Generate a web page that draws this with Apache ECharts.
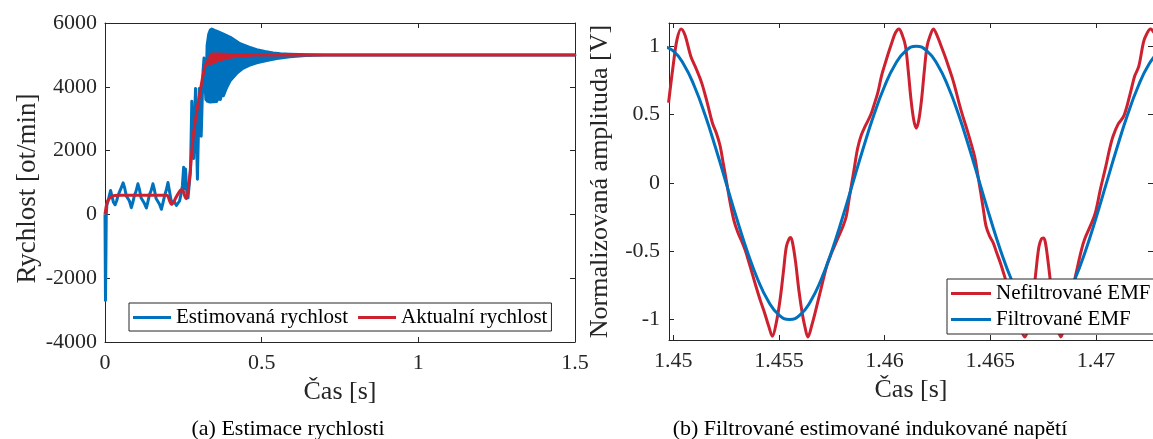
<!DOCTYPE html>
<html>
<head>
<meta charset="utf-8">
<script src="https://cdn.jsdelivr.net/npm/echarts@6/dist/echarts.min.js"></script>
<style>
  html, body { margin: 0; padding: 0; background: #fff; }
  #chart { width: 1153px; height: 439px; }
</style>
</head>
<body>
<div id="chart"></div>
<script>
// ---------- (a) Estimace rychlosti ----------
// estimated speed [rpm] before the fast oscillation
const estT = [0.000, 0.0015, 0.003, 0.004, 0.006, 0.010, 0.014, 0.018, 0.022, 0.027, 0.032, 0.037, 0.042, 0.047,
  0.052, 0.058, 0.063, 0.068, 0.073, 0.078, 0.084, 0.089, 0.094, 0.099, 0.105, 0.110, 0.115, 0.120, 0.126, 0.132,
  0.137, 0.142, 0.147, 0.153, 0.158, 0.163, 0.168, 0.174, 0.180, 0.185, 0.190, 0.195, 0.201, 0.206, 0.211, 0.216,
  0.222, 0.228, 0.233, 0.238, 0.243, 0.247, 0.251, 0.254, 0.257, 0.261, 0.265, 0.269, 0.273, 0.277, 0.280, 0.283,
  0.286, 0.289, 0.292, 0.295, 0.298, 0.301, 0.304, 0.307, 0.310, 0.313, 0.316, 0.319, 0.322, 0.325, 0.327];
const estV = [0, -2700, -1200, 0, 300, 420, 600, 750, 580, 380, 300, 420, 600, 720,
  840, 990, 820, 580, 620, 420, 210, 380, 600, 720, 960, 780, 520, 560, 340, 200,
  400, 620, 740, 960, 760, 500, 540, 320, 160, 360, 580, 740, 1000, 720, 430, 470,
  380, 280, 250, 420, 650, 900, 1480, 800, 1420, 700, 520, 460, 1400, 3550, 2300, 1750,
  3100, 3950, 2400, 1100, 2500, 3950, 3300, 2450, 3500, 4500, 4900, 4100, 3600, 4800, 5300];
// envelope of the fast oscillation of the estimate, then settled value
const estBandT = [0.326, 0.331, 0.336, 0.341, 0.350, 0.360, 0.378, 0.400, 0.431, 0.460, 0.484, 0.510, 0.537,
  0.560, 0.590, 0.620, 0.650, 0.700, 1.500];
const estBandUpper = [5300, 5650, 5780, 5810, 5770, 5730, 5650, 5550, 5350, 5240, 5165, 5105, 5063,
  5040, 5022, 5010, 5003, 5000, 5000];
const estBandLowerT = [0.326, 0.335, 0.345, 0.356, 0.362, 0.368, 0.372, 0.378, 0.385, 0.392, 0.400, 0.420,
  0.440, 0.460, 0.484, 0.516, 0.548, 0.590, 0.640, 0.700, 1.500];
const estBandLower = [3550, 3520, 3530, 3540, 3650, 3600, 3750, 3720, 3900, 4050, 4200, 4420,
  4580, 4670, 4750, 4825, 4885, 4940, 4978, 5000, 5000];
// actual speed [rpm]
const actT = [0.000, 0.003, 0.006, 0.010, 0.016, 0.024, 0.032, 0.045, 0.198, 0.203, 0.208, 0.213, 0.219, 0.226,
  0.234, 0.241, 0.246, 0.251, 0.255, 0.259, 0.262, 0.266, 0.271, 0.276, 0.282, 0.290, 0.298, 0.304, 0.309,
  0.314, 0.319, 0.325, 0.330, 0.340, 0.350, 0.365, 0.380, 0.400, 0.420, 0.450, 0.470, 1.500];
const actV = [0, 200, 350, 450, 520, 570, 592, 600, 600, 520, 380, 310, 380, 520,
  660, 760, 770, 700, 560, 490, 560, 800, 1240, 1850, 2490, 3050, 3530, 3870, 4160,
  4420, 4625, 4760, 4833, 4870, 4900, 4930, 4955, 4975, 4988, 4997, 5000, 5000];
// ripple envelope of the actual speed while settling
const actBandT = [0.326, 0.335, 0.345, 0.360, 0.380, 0.400, 0.430, 0.470];
const actBandUpper = [4850, 4980, 5030, 5030, 5020, 5012, 5005, 5000];
const actBandLower = [4700, 4720, 4760, 4820, 4880, 4925, 4965, 5000];

const speedXTicks = [0, 0.5, 1, 1.5];
const speedYTicks = [-4000, -2000, 0, 2000, 4000, 6000];

// ---------- (b) Filtrované estimované indukované napětí ----------
const emfRawT = [1.44978, 1.44999, 1.45018, 1.45037, 1.45056, 1.45083, 1.45110, 1.45135, 1.45162, 1.45185,
  1.45205, 1.45222, 1.45237, 1.45252, 1.45270, 1.45288, 1.45305, 1.45322, 1.45340, 1.45356, 1.45375,
  1.45392, 1.45412, 1.45432, 1.45452, 1.45469, 1.45488, 1.45506, 1.45522, 1.45535, 1.45548, 1.45556,
  1.45566, 1.45579, 1.45594, 1.45610, 1.45624, 1.45637, 1.45656, 1.45675, 1.45700, 1.45726, 1.45750,
  1.45776, 1.45800, 1.45818, 1.45832, 1.45845, 1.45858, 1.45872, 1.45890, 1.45910, 1.45935, 1.45952,
  1.45968, 1.45985, 1.46000, 1.46018, 1.46035, 1.46052, 1.46068, 1.46084, 1.46099, 1.46112, 1.46125,
  1.46138, 1.46150, 1.46162, 1.46175, 1.46188, 1.46201, 1.46216, 1.46231, 1.46248, 1.46268, 1.46285,
  1.46302, 1.46320, 1.46336, 1.46353, 1.46370, 1.46388, 1.46404, 1.46418, 1.46429, 1.46442, 1.46455,
  1.46468, 1.46480, 1.46497, 1.46514, 1.46530, 1.46548, 1.46565, 1.46582, 1.46603, 1.46624, 1.46645,
  1.46663, 1.46682, 1.46700, 1.46716, 1.46730, 1.46742, 1.46751, 1.46760, 1.46773, 1.46790, 1.46806,
  1.46820, 1.46833, 1.46855, 1.46878, 1.46905, 1.46930, 1.46946, 1.46972, 1.46997, 1.47022, 1.47047,
  1.47065, 1.47081, 1.47105, 1.47132, 1.47160, 1.47183, 1.47203, 1.47225, 1.47240, 1.47258, 1.47275];
const emfRawV = [0.586, 0.85, 1.05, 1.127, 1.08, 0.927, 0.83, 0.73, 0.58, 0.44,
  0.36, 0.27, 0.14, 0.01, -0.15, -0.28, -0.36, -0.42, -0.49, -0.57, -0.67,
  -0.76, -0.86, -0.95, -1.05, -1.123, -1.02, -0.85, -0.64, -0.47, -0.41, -0.40,
  -0.45, -0.58, -0.78, -0.95, -1.06, -1.128, -1.04, -0.928, -0.77, -0.61, -0.51,
  -0.415, -0.33, -0.25, -0.12, 0.0, 0.12, 0.25, 0.35, 0.42, 0.50, 0.58,
  0.66, 0.78, 0.86, 0.95, 1.03, 1.10, 1.127, 1.08, 1.0, 0.82, 0.61,
  0.46, 0.40, 0.46, 0.61, 0.82, 1.0, 1.08, 1.127, 1.08, 1.0, 0.93,
  0.854, 0.77, 0.683, 0.58, 0.488, 0.40, 0.317, 0.24, 0.171, 0.05, -0.073,
  -0.2, -0.317, -0.39, -0.439, -0.51, -0.586, -0.67, -0.757, -0.87, -0.977, -1.07,
  -1.128, -1.05, -0.88, -0.65, -0.47, -0.41, -0.403, -0.43, -0.57, -0.79, -0.96,
  -1.07, -1.128, -1.0, -0.854, -0.67, -0.50, -0.415, -0.32, -0.22, -0.04, 0.122,
  0.25, 0.341, 0.43, 0.49, 0.64, 0.78, 0.854, 1.03, 1.09, 1.127, 1.10];
const emfFiltT = [1.4495, 1.4500, 1.4505, 1.4510, 1.4515, 1.4520, 1.4525, 1.4530, 1.4535, 1.4540, 1.4545, 1.4550,
  1.4555, 1.4560, 1.4565, 1.4570, 1.4575, 1.4580, 1.4585, 1.4590, 1.4595, 1.4600, 1.4605, 1.4610, 1.4615,
  1.4620, 1.4625, 1.4630, 1.4635, 1.4640, 1.4645, 1.4650, 1.4655, 1.4660, 1.4665, 1.4670, 1.4675,
  1.4680, 1.4685, 1.4690, 1.4695, 1.4700, 1.4705, 1.4710, 1.4715, 1.4720, 1.4725, 1.4730];
const emfFiltV = [1.0, 0.966, 0.866, 0.707, 0.5, 0.259, 0.0, -0.259, -0.5, -0.707, -0.866, -0.966,
  -1.0, -0.966, -0.866, -0.707, -0.5, -0.259, 0.0, 0.259, 0.5, 0.707, 0.866, 0.966, 1.0,
  0.966, 0.866, 0.707, 0.5, 0.259, 0.0, -0.259, -0.5, -0.707, -0.866, -0.966, -1.0,
  -0.966, -0.866, -0.707, -0.5, -0.259, 0.0, 0.259, 0.5, 0.707, 0.866, 0.966];

const emfXTicks = [1.45, 1.455, 1.46, 1.465, 1.47];
const emfYTicks = [-1, -0.5, 0, 0.5, 1];

// ---------- styling ----------
const FONT = 'Liberation Serif';
const INK = '#262626';
const BLUE = '#0072BD';
const RED = '#CD2130';

const pairs = (xs, ys) => xs.map((x, i) => [x, ys[i]]);

function boxAxis(grid, pos, min, max, ticks, labelOpt, extra) {
  const ax = {
    type: 'value', gridIndex: grid, position: pos, min: min, max: max,
    axisLine: { show: true, onZero: false, lineStyle: { color: INK, width: 1 } },
    axisTick: { show: true, inside: true, length: 5, customValues: ticks, lineStyle: { color: INK, width: 1 } },
    axisLabel: labelOpt ? Object.assign({
      show: true, customValues: ticks, color: INK, fontFamily: FONT, fontSize: 22,
      formatter: v => String(v)
    }, labelOpt) : { show: false },
    splitLine: { show: false }
  };
  return Object.assign(ax, extra || {});
}

const nameStyle = { fontFamily: FONT, fontSize: 26, color: INK };

// filled band between two envelopes, drawn through the axis scales
function bandSeries(name, xi, yi, tUp, up, tLo, lo, color) {
  return {
    name: name, type: 'custom', xAxisIndex: xi, yAxisIndex: yi, silent: true,
    data: [[tUp[0], up[0]]],
    renderItem: (params, api) => {
      const pts = tUp.map((t, i) => api.coord([t, up[i]]));
      for (let i = tLo.length - 1; i >= 0; i--) pts.push(api.coord([tLo[i], lo[i]]));
      return {
        type: 'polygon', shape: { points: pts },
        style: { fill: color, stroke: color, lineWidth: 3, lineJoin: 'round' }
      };
    }
  };
}

const legendBase = {
  icon: 'rect', itemHeight: 3,
  backgroundColor: '#ffffff', borderColor: INK, borderWidth: 1, borderRadius: 0,
  textStyle: { fontFamily: FONT, fontSize: 21, color: '#000' },
  selectedMode: false
};

const chart = echarts.init(document.getElementById('chart'), null, { renderer: 'canvas' });

chart.setOption({
  animation: false,
  backgroundColor: '#ffffff',
  grid: [
    { left: 105, top: 23, width: 470, height: 319 },
    { left: 669, top: 23, width: 485, height: 317 }
  ],
  xAxis: [
    boxAxis(0, 'bottom', 0, 1.5, speedXTicks, { margin: 10 }, {
      name: 'Čas [s]', nameLocation: 'middle', nameGap: 27, nameTextStyle: nameStyle
    }),
    boxAxis(0, 'top', 0, 1.5, speedXTicks, null),
    boxAxis(1, 'bottom', 1.4498, 1.4727, emfXTicks, { margin: 10 }, {
      name: 'Čas [s]', nameLocation: 'middle', nameGap: 27, nameTextStyle: nameStyle
    }),
    boxAxis(1, 'top', 1.4498, 1.4727, emfXTicks, null)
  ],
  yAxis: [
    boxAxis(0, 'left', -4000, 6000, speedYTicks, { margin: 8 }, {
      name: 'Rychlost [ot/min]', nameLocation: 'middle', nameGap: 64,
      nameTextStyle: Object.assign({}, nameStyle, { fontSize: 27, padding: [0, 12, 0, 0] })
    }),
    boxAxis(0, 'right', -4000, 6000, speedYTicks, null),
    boxAxis(1, 'left', -1.15, 1.17, emfYTicks, { margin: 9 }, {
      name: 'Normalizovaná amplituda [V]', nameLocation: 'middle', nameGap: 56, nameTextStyle: nameStyle
    }),
    boxAxis(1, 'right', -1.15, 1.17, emfYTicks, null)
  ],
  legend: [
    Object.assign({}, legendBase, {
      data: ['Estimovaná rychlost', 'Aktualní rychlost'],
      orient: 'horizontal', left: 129, top: 303,
      itemWidth: 38, itemGap: 10, padding: [4, 4, 3, 4]
    }),
    Object.assign({}, legendBase, {
      data: ['Nefiltrované EMF', 'Filtrované EMF'],
      orient: 'vertical', left: 947, top: 279,
      itemWidth: 40, itemGap: 5, padding: [4, 8, 4, 4]
    })
  ],
  graphic: [
    { type: 'text', x: 288, y: 418, style: { text: '(a) Estimace rychlosti', font: '22px "Liberation Serif"',
      fill: '#000', textAlign: 'center', textVerticalAlign: 'top' } },
    { type: 'text', x: 870, y: 418, style: { text: '(b) Filtrované estimované indukované napětí',
      font: '22px "Liberation Serif"', fill: '#000', textAlign: 'center', textVerticalAlign: 'top' } }
  ],
  series: [
    {
      name: 'Estimovaná rychlost', type: 'line', xAxisIndex: 0, yAxisIndex: 0,
      data: pairs(estT, estV), showSymbol: false, symbol: 'none',
      lineStyle: { color: BLUE, width: 3, join: 'round' }, itemStyle: { color: BLUE }
    },
    bandSeries('estimate envelope', 0, 0, estBandT, estBandUpper, estBandLowerT, estBandLower, BLUE),
    {
      name: 'Aktualní rychlost', type: 'line', xAxisIndex: 0, yAxisIndex: 0,
      data: pairs(actT, actV), showSymbol: false, symbol: 'none', smooth: 0.2,
      lineStyle: { color: RED, width: 3, join: 'round' }, itemStyle: { color: RED }
    },
    bandSeries('actual envelope', 0, 0, actBandT, actBandUpper, actBandT, actBandLower, RED),
    {
      name: 'Nefiltrované EMF', type: 'line', xAxisIndex: 2, yAxisIndex: 2,
      data: pairs(emfRawT, emfRawV), showSymbol: false, symbol: 'none', smooth: 0.35,
      lineStyle: { color: RED, width: 3, join: 'round' }, itemStyle: { color: RED }
    },
    {
      name: 'Filtrované EMF', type: 'line', xAxisIndex: 2, yAxisIndex: 2,
      data: pairs(emfFiltT, emfFiltV), showSymbol: false, symbol: 'none', smooth: true,
      lineStyle: { color: BLUE, width: 3, join: 'round' }, itemStyle: { color: BLUE }
    }
  ]
});
</script>
</body>
</html>
